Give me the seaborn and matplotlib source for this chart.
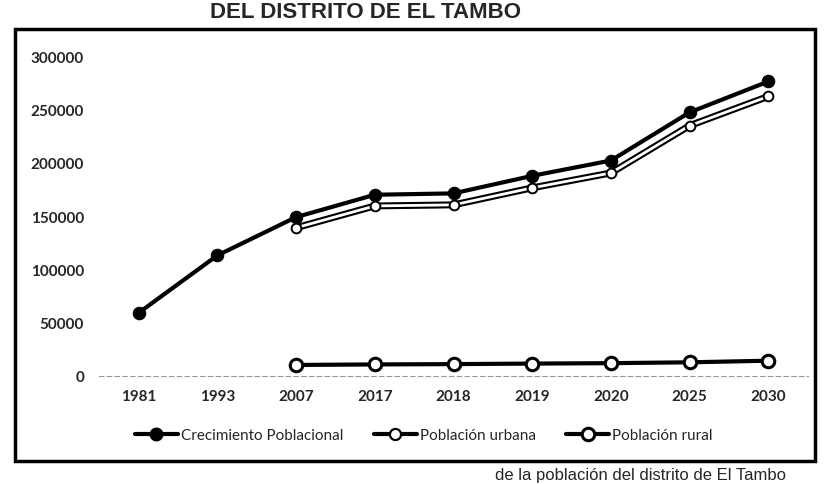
import numpy as np
import pandas as pd
import matplotlib.pyplot as plt
from matplotlib.lines import Line2D
from matplotlib.patches import Rectangle
import seaborn as sns

# values
years = ["1981", "1993", "2007", "2017", "2018", "2019", "2020", "2025", "2030"]
crecimiento = [59000, 113000, 149000, 170000, 171300, 187800, 202200, 247500, 276500]
urbana = [np.nan, np.nan, 139000, 159500, 160500, 176500, 190500, 235000, 262500]
rural = [np.nan, np.nan, 10000, 10500, 10800, 11300, 11700, 12500, 14000]
yticks = [0, 50000, 100000, 150000, 200000, 250000, 300000]

sns.set_style("white")
plt.rcParams['font.family'] = ['Lato', 'DejaVu Sans']

df = pd.DataFrame({"pos": range(len(years)),
                   "crec": crecimiento,
                   "urbana": urbana,
                   "rural": rural})

fig = plt.figure(figsize=(8.31, 4.85), dpi=100)
ax = fig.add_axes([0.1195, 0.2235, 0.8525, 0.658])

# crecimiento poblacional: black line, filled markers
sns.lineplot(data=df, x="pos", y="crec", ax=ax, color="black", lw=3,
             marker="o", markersize=9, markerfacecolor="black",
             markeredgecolor="black", zorder=3)

# poblacion urbana: hollow line (black outline under a white core)
sns.lineplot(data=df, x="pos", y="urbana", ax=ax, color="black", lw=5, zorder=4)
sns.lineplot(data=df, x="pos", y="urbana", ax=ax, color="white", lw=2,
             marker="o", markersize=7, markerfacecolor="white",
             markeredgecolor="black", markeredgewidth=1.4, zorder=5)

# poblacion rural: black line, open markers
sns.lineplot(data=df, x="pos", y="rural", ax=ax, color="black", lw=3,
             marker="o", markersize=9, markerfacecolor="white",
             markeredgecolor="black", markeredgewidth=2.2, zorder=3)

ax.set_xlim(-0.5, len(years) - 0.5)
ax.set_ylim(0, 300000)
ax.set_xticks(range(len(years)))
ax.set_xticklabels(years)
ax.set_yticks(yticks)
ax.set_yticklabels([str(v) for v in yticks])
ax.set_xlabel("")
ax.set_ylabel("")
ax.tick_params(axis="x", length=0, labelsize=11, pad=10)
ax.tick_params(axis="y", length=0, labelsize=11, pad=11)
for lbl in ax.get_xticklabels() + ax.get_yticklabels():
    lbl.set_fontweight("bold")
for s in ["top", "right", "left"]:
    ax.spines[s].set_visible(False)
ax.spines["bottom"].set_color("#9a9a9a")
ax.spines["bottom"].set_linewidth(0.8)
ax.spines["bottom"].set_linestyle((0, (4, 3)))

handles = [
    Line2D([], [], color="black", lw=3, marker="o", markersize=9,
           markerfacecolor="black", markeredgecolor="black"),
    Line2D([], [], color="black", lw=3, marker="o", markersize=8,
           markerfacecolor="white", markeredgecolor="black", markeredgewidth=1.6),
    Line2D([], [], color="black", lw=3, marker="o", markersize=9,
           markerfacecolor="white", markeredgecolor="black", markeredgewidth=2.2),
]
labels = ["Crecimiento Poblacional", "Población urbana", "Población rural"]
fig.legend(handles, labels, loc="center", bbox_to_anchor=(0.51, 0.1), ncol=3,
           frameon=False, fontsize=11, handlelength=2.8, columnspacing=2.0,
           handletextpad=0.2)

# chart border
fig.patches.append(Rectangle((0.018, 0.047), 0.963, 0.891, transform=fig.transFigure,
                             fill=False, edgecolor="black", lw=2.5))

# title fragment above, caption fragment below
fig.text(0.253, 1 - 2 / 485, "DEL DISTRITO DE EL TAMBO", fontsize=16,
         fontweight="bold", family="Liberation Sans", va="top", ha="left")
fig.text(0.596, 1 - 483 / 485, "de la población del distrito de El Tambo", fontsize=12,
         family="Liberation Sans", va="bottom", ha="left")

fig.savefig("out.png", dpi=100)
